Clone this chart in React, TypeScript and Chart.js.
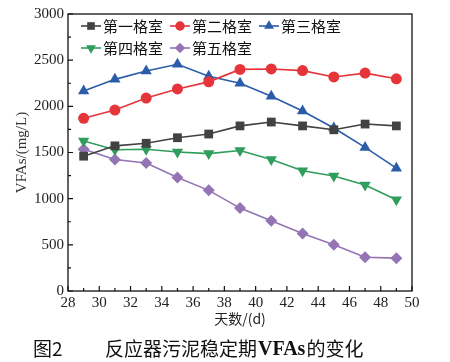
import React, { useEffect, useRef } from "react";
import { Chart, registerables } from "chart.js";

Chart.register(...registerables);

const days = [29, 31, 33, 35, 37, 39, 41, 43, 45, 47, 49];
const seriesNames = ["第一格室", "第二格室", "第三格室", "第四格室", "第五格室"];
const room1 = [1460, 1572, 1600, 1660, 1700, 1788, 1830, 1788, 1746, 1808, 1788];
const room2 = [1870, 1960, 2090, 2188, 2265, 2400, 2405, 2387, 2318, 2360, 2298];
const room3 = [2165, 2292, 2382, 2455, 2325, 2250, 2110, 1950, 1765, 1555, 1330];
const room4 = [1625, 1530, 1535, 1506, 1488, 1522, 1425, 1302, 1246, 1148, 988];
const room5 = [1535, 1425, 1387, 1230, 1090, 898, 760, 624, 500, 365, 356];
const xTicks = [28, 50, 2];
const yTicks = [0, 3000, 500];
const caption = ["图2", "反应器污泥稳定期", "VFAs", "的变化"];

const colors = ["#424242", "#e5353b", "#2b5ca8", "#2f9d5c", "#9474b4"];
const styles: any[] = ["rect", "circle", "triangle", "triangle", "rectRot"];
const rotations = [0, 0, 0, 180, 0];
const radii = [6.2, 5.5, 6.5, 6.5, 6];
const allData = [room1, room2, room3, room4, room5];

const CJK = '"Noto Sans CJK SC", sans-serif';
const SERIF = '"Liberation Serif", "Times New Roman", serif';

function drawMarker(ctx: CanvasRenderingContext2D, i: number, x: number, y: number) {
  const r = radii[i] - 0.8;
  ctx.beginPath();
  if (i === 0) {
    const s = r * Math.SQRT1_2;
    ctx.rect(x - s, y - s, 2 * s, 2 * s);
  } else if (i === 1) {
    ctx.arc(x, y, r, 0, Math.PI * 2);
  } else if (i === 2 || i === 3) {
    const dir = i === 2 ? 1 : -1;
    ctx.moveTo(x, y - dir * r);
    ctx.lineTo(x + r * 0.87, y + dir * r * 0.5);
    ctx.lineTo(x - r * 0.87, y + dir * r * 0.5);
  } else {
    ctx.moveTo(x, y - r);
    ctx.lineTo(x + r, y);
    ctx.lineTo(x, y + r);
    ctx.lineTo(x - r, y);
  }
  ctx.closePath();
  ctx.fill();
}

const decorPlugin = {
  id: "decor",
  afterDraw(chart: any) {
    const { ctx, chartArea: a, scales } = chart;
    const xs = scales.x;
    const ys = scales.y;
    ctx.save();
    ctx.strokeStyle = "#111";
    ctx.lineWidth = 1.3;
    ctx.strokeRect(a.left, a.top, a.right - a.left, a.bottom - a.top);
    ctx.lineWidth = 1.2;
    ctx.beginPath();
    for (let v = xTicks[0]; v <= xTicks[1]; v += 1) {
      const px = xs.getPixelForValue(v);
      const len = v % 2 === 0 ? 5 : 3;
      ctx.moveTo(px, a.bottom);
      ctx.lineTo(px, a.bottom - len);
    }
    for (let v = yTicks[0]; v <= yTicks[1]; v += yTicks[2] / 2) {
      const py = ys.getPixelForValue(v);
      const len = v % yTicks[2] === 0 ? 5 : 3;
      ctx.moveTo(a.left, py);
      ctx.lineTo(a.left + len, py);
    }
    ctx.stroke();

    ctx.font = `15px ${CJK}`;
    ctx.textBaseline = "middle";
    const rows = [[0, 1, 2], [3, 4]];
    rows.forEach((row, ri) => {
      let x = a.left + 13;
      const y = a.top + 12 + ri * 22;
      row.forEach((i) => {
        ctx.strokeStyle = colors[i];
        ctx.lineWidth = 1.6;
        ctx.beginPath();
        ctx.moveTo(x, y);
        ctx.lineTo(x + 20, y);
        ctx.stroke();
        ctx.fillStyle = colors[i];
        drawMarker(ctx, i, x + 10, y);
        ctx.fillStyle = "#111";
        ctx.textAlign = "left";
        ctx.fillText(seriesNames[i], x + 22, y);
        x += 22 + ctx.measureText(seriesNames[i]).width + 7;
      });
    });

    let cx = 33;
    const cy = 349;
    ctx.fillStyle = "#111";
    ctx.textBaseline = "middle";
    ctx.textAlign = "left";
    ctx.font = `19px ${CJK}`;
    ctx.fillText(caption[0], cx, cy);
    cx = 105;
    ctx.fillText(caption[1], cx, cy);
    cx += ctx.measureText(caption[1]).width + 1;
    ctx.font = `bold 20px ${SERIF}`;
    ctx.fillText(caption[2], cx, cy + 1);
    cx += ctx.measureText(caption[2]).width + 1;
    ctx.font = `19px ${CJK}`;
    ctx.fillText(caption[3], cx, cy);
    ctx.restore();
  },
};

export default function App() {
  const ref = useRef<HTMLCanvasElement | null>(null);
  useEffect(() => {
    document.body.style.margin = "0";
    const canvas = ref.current;
    if (!canvas) return;
    const chart = new Chart(canvas, {
      type: "line",
      data: {
        datasets: allData.map((vals, i) => ({
          label: seriesNames[i],
          data: vals.map((v, j) => ({ x: days[j], y: v })),
          borderColor: colors[i],
          backgroundColor: colors[i],
          borderWidth: 1.6,
          pointStyle: styles[i],
          rotation: rotations[i],
          pointRadius: radii[i],
          pointBorderWidth: 0,
          tension: 0,
        })),
      },
      options: {
        responsive: false,
        animation: false,
        events: [],
        layout: { padding: { top: 14, right: 38, bottom: 35, left: 0 } },
        plugins: {
          legend: { display: false },
          tooltip: { enabled: false },
        },
        scales: {
          x: {
            type: "linear",
            min: xTicks[0],
            max: xTicks[1],
            grid: { display: false, drawTicks: false },
            border: { display: false },
            ticks: {
              stepSize: xTicks[2],
              padding: 3,
              color: "#222",
              font: { family: SERIF, size: 15 },
              maxRotation: 0,
              autoSkip: false,
              callback: (v: any) => String(v),
            },
            title: {
              display: true,
              text: "天数/(d)",
              color: "#222",
              font: { family: CJK, size: 14 },
              padding: { top: 0, bottom: 0 },
            },
            afterFit(scale: any) {
              scale.height = 36;
            },
          },
          y: {
            min: yTicks[0],
            max: yTicks[1],
            grid: { display: false, drawTicks: false },
            border: { display: false },
            ticks: {
              stepSize: yTicks[2],
              padding: 4,
              color: "#222",
              font: { family: SERIF, size: 15 },
              callback: (v: any) => String(v),
            },
            title: {
              display: true,
              text: "VFAs/(mg/L)",
              color: "#333",
              font: { family: SERIF, size: 15 },
              padding: { top: 13, bottom: 0 },
            },
            afterFit(scale: any) {
              scale.width = 68;
            },
          },
        },
      },
      plugins: [decorPlugin],
    });
    return () => chart.destroy();
  }, []);
  return (
    <div style={{ width: 450, height: 362, background: "#fff" }}>
      <canvas ref={ref} width={450} height={362} style={{ display: "block" }} />
    </div>
  );
}
